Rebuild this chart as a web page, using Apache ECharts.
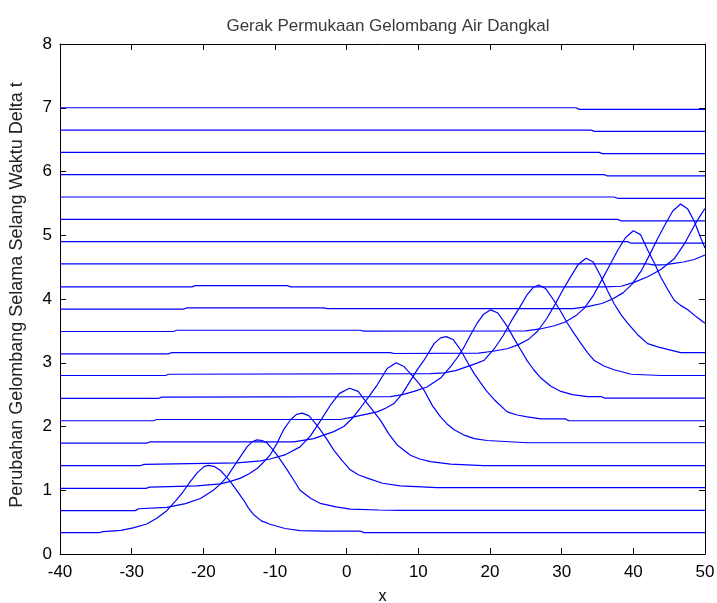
<!DOCTYPE html>
<html>
<head>
<meta charset="utf-8">
<script src="https://cdn.jsdelivr.net/npm/echarts/dist/echarts.min.js"></script>
<style>
html,body{margin:0;padding:0;background:#ffffff;}
#chart{width:717px;height:603px;}
</style>
</head>
<body>
<div id="chart"></div>
<script>
const chartTitle = 'Gerak Permukaan Gelombang Air Dangkal';
const yAxisName = 'Perubahan Gelombang Selama Selang Waktu Delta t';
const xAxisName = 'x';
const xRange = [-40, 50, 10];
const yRange = [0, 8, 1];

const wave1 = [[-40,0.335],[-34.5,0.335],[-34,0.35],[-31.5,0.37],[-29.8,0.41],[-27.9,0.47],[-26.5,0.56],[-25.1,0.68],[-23.8,0.84],[-22.8,0.98],[-21.8,1.14],[-20.8,1.28],[-19.9,1.37],[-19.3,1.39],[-18.4,1.37],[-17.6,1.31],[-16.8,1.21],[-16.2,1.13],[-15.3,0.99],[-14.4,0.85],[-13.7,0.72],[-13.0,0.62],[-11.9,0.52],[-10.7,0.466],[-8.6,0.4],[-6.5,0.366],[-3,0.36],[1.9,0.36],[2.4,0.335],[50,0.335]];
const wave2 = [[-40,0.68],[-29.5,0.68],[-29,0.71],[-25.1,0.73],[-22.5,0.79],[-20.4,0.87],[-18.6,1.0],[-17.6,1.1],[-16.7,1.21],[-15.3,1.45],[-13.9,1.68],[-13.2,1.76],[-12.5,1.79],[-11.8,1.78],[-11.1,1.74],[-10.4,1.65],[-9.7,1.55],[-8.3,1.32],[-7.4,1.16],[-6.5,1.0],[-5.0,0.87],[-3.7,0.795],[-1.5,0.74],[0.5,0.705],[4.5,0.69],[7.5,0.685],[50,0.685]];
const wave3 = [[-40,1.03],[-28,1.03],[-27.5,1.05],[-20.9,1.07],[-17.6,1.1],[-16.2,1.14],[-14.8,1.19],[-13.6,1.26],[-12.5,1.34],[-11.6,1.44],[-10.7,1.55],[-9.7,1.74],[-8.8,1.95],[-7.8,2.11],[-7.0,2.19],[-6.2,2.21],[-5.3,2.17],[-4.5,2.07],[-3.7,1.95],[-2.7,1.79],[-1.8,1.63],[-0.6,1.46],[0.5,1.32],[1.7,1.24],[2.9,1.19],[5.0,1.11],[7.5,1.07],[12.6,1.04],[50,1.04]];
const wave4 = [[-40,1.385],[-28.8,1.385],[-28.3,1.405],[-15.3,1.43],[-12,1.46],[-10.7,1.49],[-8.5,1.56],[-6.5,1.68],[-5,1.86],[-3.6,2.1],[-2.3,2.33],[-1,2.52],[0.4,2.6],[1.6,2.55],[2.9,2.36],[4.7,2.1],[5.9,1.88],[7.05,1.71],[8.9,1.55],[10.2,1.49],[11.7,1.45],[14.5,1.41],[19.1,1.385],[50,1.385]];
const wave5 = [[-40,1.74],[-27.9,1.74],[-27.4,1.76],[-7.4,1.76],[-4.6,1.81],[-1.8,1.92],[-0.4,2.0],[0.8,2.13],[1.9,2.29],[3.1,2.47],[4.25,2.65],[5.65,2.91],[6.9,3.0],[8.0,2.94],[8.9,2.83],[9.9,2.7],[10.8,2.57],[12.0,2.32],[13.1,2.15],[14.0,2.04],[15.0,1.95],[16.5,1.86],[17.8,1.81],[19.6,1.78],[25.2,1.745],[50,1.745]];
const wave6 = [[-40,2.09],[-27,2.09],[-26.5,2.11],[-0.9,2.11],[1.0,2.15],[4.25,2.23],[5.5,2.29],[6.6,2.36],[7.8,2.52],[8.9,2.72],[9.9,2.9],[10.8,3.04],[12.2,3.3],[13.1,3.39],[13.9,3.41],[14.9,3.36],[15.9,3.2],[16.9,3.0],[17.8,2.83],[18.6,2.7],[19.5,2.56],[20.6,2.42],[22.4,2.23],[23.8,2.18],[25.2,2.15],[27.1,2.12],[30.5,2.12],[31,2.09],[50,2.09]];
const wave7 = [[-40,2.44],[-26.3,2.44],[-25.8,2.46],[6.1,2.47],[7.8,2.5],[9.4,2.55],[11.2,2.62],[13.1,2.76],[14.5,2.94],[15.5,3.09],[16.4,3.25],[17.3,3.44],[18.2,3.62],[19.1,3.76],[20.1,3.83],[21.1,3.78],[22.4,3.57],[23.3,3.39],[24.3,3.2],[25.2,3.03],[26.1,2.89],[27.1,2.76],[28.5,2.63],[29.9,2.55],[31.5,2.5],[33.6,2.47],[35.5,2.47],[36,2.445],[50,2.445]];
const wave8 = [[-40,2.8],[-25.3,2.8],[-24.8,2.82],[11.7,2.83],[13.6,2.84],[15.3,2.88],[16.8,2.94],[18.1,2.99],[19.2,3.04],[20.6,3.22],[21.8,3.42],[23.0,3.66],[24.1,3.86],[25.2,4.07],[26.0,4.18],[26.8,4.22],[27.8,4.16],[28.9,3.98],[29.9,3.8],[30.8,3.62],[31.8,3.45],[32.7,3.3],[33.6,3.16],[34.5,3.04],[35.9,2.95],[37.3,2.89],[39.7,2.82],[43.9,2.8],[50,2.8]];
const wave9 = [[-40,3.14],[-24.9,3.14],[-24.4,3.16],[6.1,3.16],[6.6,3.145],[18.4,3.15],[20.4,3.18],[22.4,3.22],[23.9,3.28],[25.4,3.37],[26.6,3.49],[27.9,3.69],[29.1,3.92],[30.2,4.15],[31.2,4.34],[32.3,4.54],[33.4,4.64],[34.4,4.58],[35.5,4.35],[36.4,4.13],[37.3,3.93],[38.3,3.75],[39.2,3.62],[40.6,3.44],[42.0,3.3],[43.4,3.25],[44.8,3.21],[46.6,3.16],[50,3.16]];
const wave10 = [[-40,3.49],[-24.2,3.49],[-23.7,3.51],[1.9,3.51],[2.4,3.495],[25,3.5],[27,3.53],[29,3.58],[30.5,3.64],[32,3.74],[33.2,3.86],[34.5,4.07],[35.7,4.32],[36.8,4.55],[37.8,4.76],[38.9,4.96],[40.0,5.07],[41.0,5.01],[42.0,4.77],[43.0,4.55],[43.8,4.35],[44.8,4.15],[45.7,3.98],[46.6,3.9],[47.6,3.83],[48.8,3.72],[50,3.62]];
const wave11 = [[-40,3.84],[-22.8,3.84],[-22.3,3.86],[-3.2,3.86],[-2.7,3.85],[31.6,3.85],[33.6,3.88],[35.6,3.93],[37.1,4.0],[38.6,4.1],[39.8,4.23],[41.1,4.44],[42.3,4.7],[43.4,4.95],[44.4,5.16],[45.5,5.38],[46.6,5.49],[47.6,5.41],[48.5,5.22],[49.4,4.96],[50,4.8]];
const wave12 = [[-40,4.19],[-21.6,4.19],[-21.1,4.21],[-8.3,4.21],[-7.8,4.19],[36,4.19],[38.3,4.2],[40.1,4.26],[42,4.35],[43.8,4.46],[45.7,4.63],[47.1,4.86],[48.5,5.15],[49.3,5.3],[50,5.42]];
const wave13 = [[-40,4.55],[42,4.55],[43,4.53],[44.5,4.54],[45.7,4.56],[47,4.58],[48.5,4.62],[50,4.69]];
const wave14 = [[-40,4.9],[39.2,4.9],[39.7,4.875],[50,4.875]];
const wave15 = [[-40,5.25],[37.8,5.25],[38.3,5.225],[50,5.225]];
const wave16 = [[-40,5.6],[37.3,5.6],[37.8,5.58],[50,5.58]];
const wave17 = [[-40,5.95],[35.9,5.95],[36.4,5.93],[50,5.93]];
const wave18 = [[-40,6.3],[35.2,6.3],[35.7,6.28],[50,6.28]];
const wave19 = [[-40,6.65],[34.1,6.65],[34.6,6.63],[50,6.63]];
const wave20 = [[-40,7.0],[32.0,7.0],[32.5,6.975],[50,6.975]];

const waves = [wave1,wave2,wave3,wave4,wave5,wave6,wave7,wave8,wave9,wave10,
               wave11,wave12,wave13,wave14,wave15,wave16,wave17,wave18,wave19,wave20];

const FONT = "'Liberation Sans', Arial, Helvetica, sans-serif";
const axisLineStyle = {show:true, onZero:false, lineStyle:{color:'#000', width:1}};
const tickStyle = {show:true, inside:true, length:6, lineStyle:{color:'#000', width:1}};

const chart = echarts.init(document.getElementById('chart'), null, {renderer:'canvas'});
chart.setOption({
  backgroundColor:'#ffffff',
  animation:false,
  title:{
    text: chartTitle, left:383, textAlign:'center', top:13,
    textStyle:{fontFamily:FONT, fontSize:17, fontWeight:'normal', color:'#3a3a3a'}
  },
  grid:{left:60, right:12, top:44, bottom:49, containLabel:false, outerBoundsMode:'none'},
  xAxis:[
    {type:'value', min:xRange[0], max:xRange[1], interval:xRange[2], position:'bottom',
     axisLine:axisLineStyle, axisTick:tickStyle, splitLine:{show:false},
     axisLabel:{margin:10, fontFamily:FONT, fontSize:17, color:'#000'},
     name:xAxisName, nameLocation:'middle', nameGap:35,
     nameTextStyle:{fontFamily:FONT, fontSize:16, color:'#000'}},
    {type:'value', min:xRange[0], max:xRange[1], interval:xRange[2], position:'top',
     axisLine:axisLineStyle, axisTick:tickStyle, splitLine:{show:false},
     axisLabel:{show:false}}
  ],
  yAxis:[
    {type:'value', min:yRange[0], max:yRange[1], interval:yRange[2], position:'left',
     axisLine:axisLineStyle, axisTick:tickStyle, splitLine:{show:false},
     axisLabel:{margin:8, fontFamily:FONT, fontSize:17, color:'#000'}},
    {type:'value', min:yRange[0], max:yRange[1], interval:yRange[2], position:'right',
     axisLine:axisLineStyle, axisTick:tickStyle, splitLine:{show:false},
     axisLabel:{show:false}}
  ],
  graphic:[
    {type:'text', x:17, y:295, rotation:Math.PI/2, silent:true,
     style:{text:yAxisName, font:"18px 'Liberation Sans', Arial, sans-serif", fill:'#222',
            textAlign:'center', textVerticalAlign:'middle'}}
  ],
  series: waves.map(function(d){
    return {type:'line', xAxisIndex:0, yAxisIndex:0, data:d, showSymbol:false, symbol:'none',
            silent:true, lineStyle:{color:'#0000ff', width:1.2}};
  })
});
</script>
</body>
</html>
